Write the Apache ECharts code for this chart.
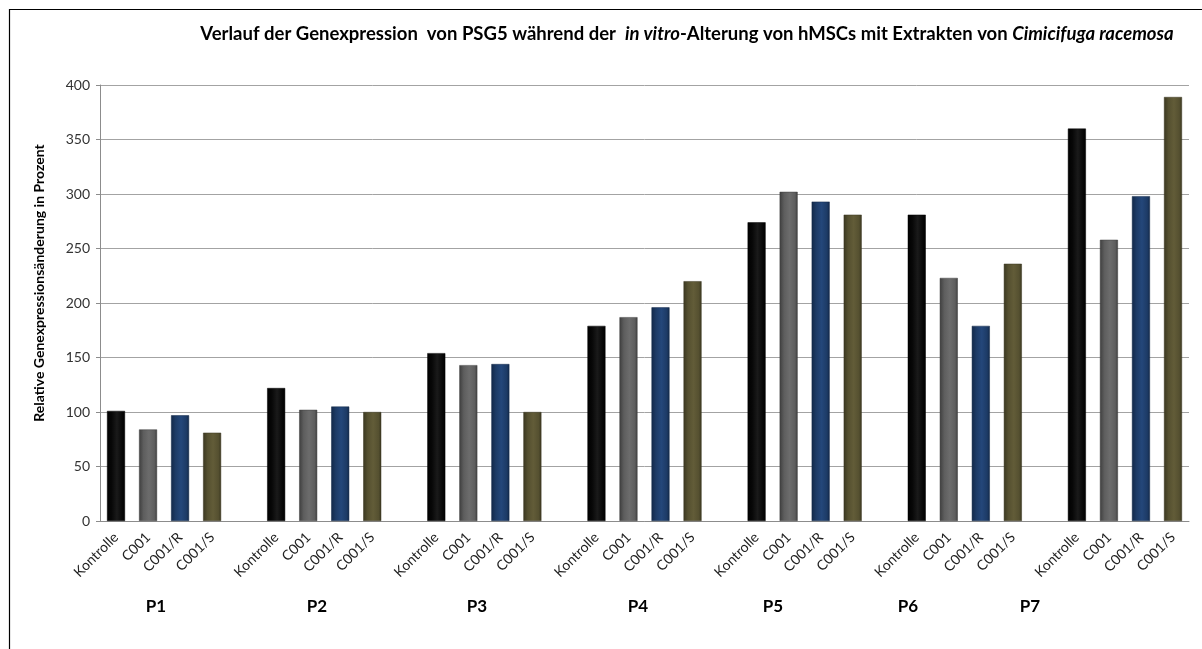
<!DOCTYPE html>
<html>
<head>
<meta charset="utf-8">
<script src="https://cdn.jsdelivr.net/npm/echarts@6/dist/echarts.min.js"></script>
<style>
  html, body { margin: 0; padding: 0; background: #fff; }
  #chart { width: 1202px; height: 649px; }
</style>
</head>
<body>
<div id="chart"></div>
<script>
// Passages (groups) and treatments (bars within each group)
const passages = ['P1', 'P2', 'P3', 'P4', 'P5', 'P6', 'P7'];
const treatments = ['Kontrolle', 'C001', 'C001/R', 'C001/S'];

// Relative expression change of PSG5 in percent, one value per passage
const kontrolle = [101, 122, 154, 179, 274, 281, 360];
const c001      = [84, 102, 143, 187, 302, 223, 258];
const c001R     = [97, 105, 144, 196, 293, 179, 298];
const c001S     = [81, 100, 100, 220, 281, 236, 389];

// y-axis ticks
const yTicks = { min: 0, max: 400, step: 50 };

const seriesValues = [kontrolle, c001, c001R, c001S];
const baseColors = ['#070707', '#5e5e5e', '#1d3b66', '#555030'];
const edgeColors = ['#000000', '#3e3e3e', '#122848', '#3a3720'];
const midColors  = ['#1a1a1a', '#6c6c6c', '#24477a', '#625c38'];

function cylinder(i) {
  return {
    type: 'linear', x: 0, y: 0, x2: 1, y2: 0,
    colorStops: [
      { offset: 0, color: edgeColors[i] },
      { offset: 0.25, color: baseColors[i] },
      { offset: 0.55, color: midColors[i] },
      { offset: 0.85, color: baseColors[i] },
      { offset: 1, color: edgeColors[i] }
    ]
  };
}

// Flatten to one category axis: 4 bars per passage, one empty slot between passages
const categories = [];
const barData = [];
passages.forEach((p, g) => {
  if (g > 0) { categories.push(''); barData.push('-'); }
  treatments.forEach((t, i) => {
    categories.push(t);
    barData.push({
      value: seriesValues[i][g],
      itemStyle: { color: cylinder(i), borderColor: edgeColors[i], borderWidth: 0.5 }
    });
  });
});

const groupLabelX = [156, 317, 477, 638, 773, 908, 1030];

const chart = echarts.init(document.getElementById('chart'), null, { renderer: 'canvas' });

const font = 'Lato, "Open Sans", sans-serif';

chart.setOption({
  backgroundColor: '#ffffff',
  animation: false,
  title: {
    left: 682,
    textAlign: 'center',
    top: 20,
    text: '{b|Verlauf der Genexpression  von PSG5 während der  }{i|in vitro}{b|-Alterung von hMSCs mit Extrakten von }{i|Cimicifuga racemosa}',
    textStyle: {
      rich: {
        b: { fontFamily: font, fontWeight: 'bold', fontSize: 18.5, color: '#000' },
        i: { fontFamily: font, fontWeight: 'bold', fontStyle: 'italic', fontSize: 18.5, color: '#000' }
      }
    }
  },
  grid: { left: 100, right: 13, top: 85, bottom: 128, containLabel: false },
  xAxis: {
    type: 'category',
    data: categories,
    axisLine: { show: true, lineStyle: { color: '#8c8c8c', width: 1 } },
    axisTick: { show: false },
    axisLabel: {
      interval: 0,
      rotate: 45,
      color: '#222',
      fontFamily: font,
      fontSize: 14,
      margin: 14
    }
  },
  yAxis: {
    type: 'value',
    min: yTicks.min,
    max: yTicks.max,
    interval: yTicks.step,
    name: 'Relative Genexpressionsänderung in Prozent',
    nameLocation: 'middle',
    nameGap: 54,
    nameTextStyle: {
      fontFamily: font, fontWeight: 'bold', fontSize: 14, color: '#000',
      padding: [0, 0, 0, 40]
    },
    axisLine: { show: true, lineStyle: { color: '#8c8c8c', width: 1 } },
    axisTick: { show: true, length: 4, lineStyle: { color: '#8c8c8c' } },
    axisLabel: { color: '#333', fontFamily: font, fontSize: 14, margin: 10 },
    splitLine: { show: true, lineStyle: { color: '#a3a3a3', width: 1 } }
  },
  series: [{
    type: 'bar',
    data: barData,
    barWidth: 18,
    silent: true
  }],
  graphic: [
    {
      type: 'rect',
      left: 7, top: 7,
      shape: { width: 1205, height: 660 },
      style: { fill: 'none', stroke: '#000', lineWidth: 1.2 },
      silent: true
    }
  ].concat(passages.map((p, g) => ({
    type: 'text',
    x: groupLabelX[g],
    y: 607,
    style: {
      text: p,
      fontFamily: font,
      fontWeight: 'bold',
      fontSize: 17,
      fill: '#000',
      textAlign: 'center',
      textVerticalAlign: 'middle'
    }
  })))
});
</script>
</body>
</html>
